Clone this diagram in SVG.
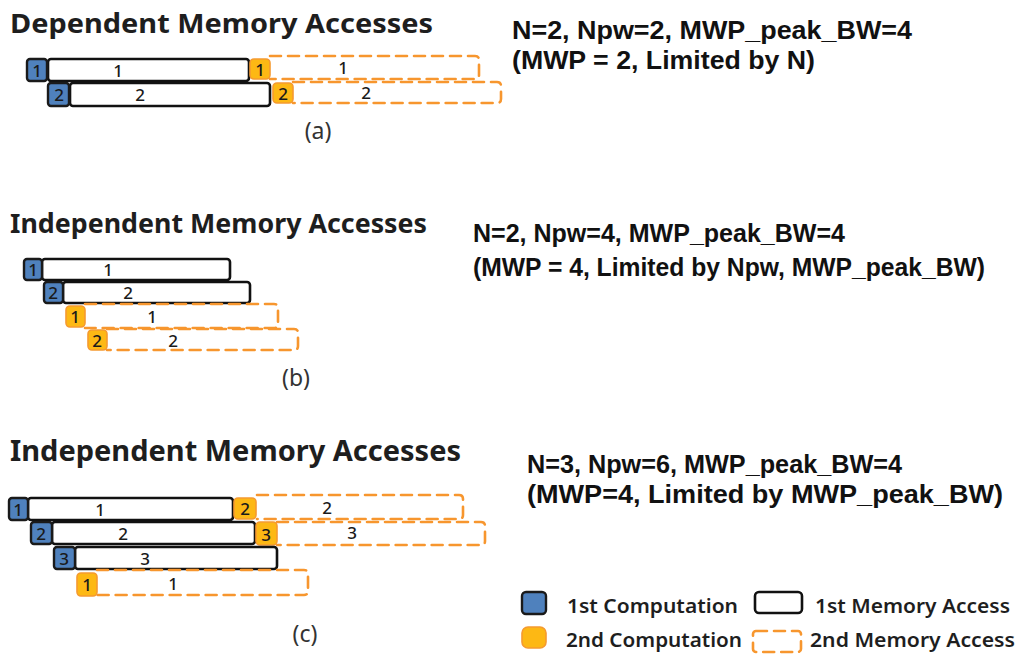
<svg xmlns="http://www.w3.org/2000/svg" width="1021" height="657" viewBox="0 0 1021 657">
  <style>
    .title { font-family: "Noto Sans", "Open Sans", sans-serif; font-weight: bold; font-size: 26px; fill: #1e1e1e; }
    .param { font-family: "Liberation Sans", Arial, sans-serif; font-weight: bold; font-size: 25px; fill: #111; }
    .cap { font-family: "Noto Sans", "Open Sans", sans-serif; font-size: 23px; fill: #333; text-anchor: middle; }
    .num { font-family: "Noto Sans", "Open Sans", sans-serif; font-weight: 500; font-size: 17px; fill: #1a1a1a; text-anchor: middle; }
    .leg { font-family: "Noto Sans", "Open Sans", sans-serif; font-weight: 600; font-size: 19px; fill: #1e1e1e; }
    .c1 { fill: #4f81bd; stroke: #1a1a1a; stroke-width: 2.4; }
    .c2 { fill: #fdb814; stroke: #f59a30; stroke-width: 1.6; }
    .m1 { fill: #fff; stroke: #111; stroke-width: 2.6; }
    .m2 { fill: none; stroke: #f7962e; stroke-width: 2.6; stroke-dasharray: 11 7; stroke-linecap: round; }
  </style>

  <!-- (a) dependent accesses -->
  <g id="panel-a">
    <text class="title" x="10" y="33" textLength="423" lengthAdjust="spacingAndGlyphs">Dependent Memory Accesses</text>
    <text class="param" x="512" y="39" textLength="400" lengthAdjust="spacingAndGlyphs">N=2, Npw=2, MWP_peak_BW=4</text>
    <text class="param" x="512" y="69" textLength="303" lengthAdjust="spacingAndGlyphs">(MWP = 2, Limited by N)</text>

    <g id="a-w1">
      <path class="m2" d="M270 56 H475 Q479 56 479 60 V75 Q479 79 475 79 H270"/>
      <rect class="m1" x="48" y="59" width="201" height="22" rx="3"/>
      <rect class="c1" x="27" y="59" width="20" height="22" rx="3"/>
      <rect class="c2" x="250" y="59" width="20" height="20" rx="4"/>
      <text class="num" x="37" y="77">1</text>
      <text class="num" x="118" y="77">1</text>
      <text class="num" x="260" y="76">1</text>
      <text class="num" x="343" y="74">1</text>
    </g>
    <g id="a-w2">
      <path class="m2" d="M293 82 H497 Q501 82 501 86 V99 Q501 103 497 103 H293"/>
      <rect class="m1" x="70" y="83" width="200" height="23" rx="3"/>
      <rect class="c1" x="48" y="83" width="21" height="23" rx="3"/>
      <rect class="c2" x="273" y="83" width="20" height="20" rx="4"/>
      <text class="num" x="59" y="101">2</text>
      <text class="num" x="140" y="101">2</text>
      <text class="num" x="283" y="100">2</text>
      <text class="num" x="366" y="99">2</text>
    </g>
    <text class="cap" x="318" y="139">(a)</text>
  </g>

  <!-- (b) independent accesses, N=2 -->
  <g id="panel-b">
    <text class="title" x="10" y="233" textLength="417" lengthAdjust="spacingAndGlyphs">Independent Memory Accesses</text>
    <text class="param" x="473" y="242" textLength="372" lengthAdjust="spacingAndGlyphs">N=2, Npw=4, MWP_peak_BW=4</text>
    <text class="param" x="473" y="276" textLength="512" lengthAdjust="spacingAndGlyphs">(MWP = 4, Limited by Npw, MWP_peak_BW)</text>

    <g id="b-w1">
      <rect class="m1" x="42" y="259" width="188" height="21" rx="3"/>
      <rect class="c1" x="24" y="259" width="18" height="21" rx="3"/>
      <text class="num" x="33" y="276">1</text>
      <text class="num" x="108" y="276">1</text>
    </g>
    <g id="b-w2">
      <rect class="m1" x="63" y="282" width="187" height="21" rx="3"/>
      <rect class="c1" x="44" y="282" width="19" height="21" rx="3"/>
      <text class="num" x="53" y="299">2</text>
      <text class="num" x="128" y="299">2</text>
    </g>
    <g id="b-w1-second">
      <path class="m2" d="M85 304 H274 Q278 304 278 308 V324 Q278 328 274 328 H85"/>
      <rect class="c2" x="66" y="306" width="19" height="21" rx="4"/>
      <text class="num" x="75" y="323">1</text>
      <text class="num" x="152" y="323">1</text>
    </g>
    <g id="b-w2-second">
      <path class="m2" d="M107 329 H294 Q298 329 298 333 V346 Q298 350 294 350 H107"/>
      <rect class="c2" x="88" y="330" width="19" height="20" rx="4"/>
      <text class="num" x="97" y="347">2</text>
      <text class="num" x="173" y="347">2</text>
    </g>
    <text class="cap" x="296" y="386">(b)</text>
  </g>

  <!-- (c) independent accesses, N=3 -->
  <g id="panel-c">
    <text class="title" x="10" y="461" textLength="451" lengthAdjust="spacingAndGlyphs" style="font-size:28px">Independent Memory Accesses</text>
    <text class="param" x="527" y="473" textLength="375" lengthAdjust="spacingAndGlyphs">N=3, Npw=6, MWP_peak_BW=4</text>
    <text class="param" x="527" y="503" textLength="476" lengthAdjust="spacingAndGlyphs">(MWP=4, Limited by MWP_peak_BW)</text>

    <g id="c-w1">
      <path class="m2" d="M257 495 H459 Q463 495 463 499 V515 Q463 519 459 519 H257"/>
      <rect class="m1" x="28" y="498" width="205" height="22" rx="3"/>
      <rect class="c1" x="9" y="498" width="19" height="22" rx="3"/>
      <rect class="c2" x="234" y="498" width="22" height="21" rx="4"/>
      <text class="num" x="18" y="516">1</text>
      <text class="num" x="100" y="516">1</text>
      <text class="num" x="245" y="515">2</text>
      <text class="num" x="327" y="514">2</text>
    </g>
    <g id="c-w2">
      <path class="m2" d="M277 522 H481 Q485 522 485 526 V541 Q485 545 481 545 H277"/>
      <rect class="m1" x="52" y="522" width="203" height="22" rx="3"/>
      <rect class="c1" x="31" y="522" width="21" height="22" rx="3"/>
      <rect class="c2" x="256" y="522" width="21" height="23" rx="4"/>
      <text class="num" x="41" y="540">2</text>
      <text class="num" x="123" y="540">2</text>
      <text class="num" x="266" y="541">3</text>
      <text class="num" x="352" y="539">3</text>
    </g>
    <g id="c-w3">
      <rect class="m1" x="75" y="547" width="202" height="22" rx="3"/>
      <rect class="c1" x="54" y="547" width="21" height="22" rx="3"/>
      <text class="num" x="64" y="565">3</text>
      <text class="num" x="145" y="565">3</text>
    </g>
    <g id="c-w1-second">
      <path class="m2" d="M97 570 H304 Q308 570 308 574 V591 Q308 595 304 595 H97"/>
      <rect class="c2" x="77" y="573" width="20" height="23" rx="4"/>
      <text class="num" x="87" y="591">1</text>
      <text class="num" x="173" y="590">1</text>
    </g>
    <text class="cap" x="305" y="642">(c)</text>
  </g>

  <!-- legend -->
  <g id="legend">
    <rect class="c1" x="522" y="592" width="24" height="22" rx="4"/>
    <text class="leg" x="567" y="613" textLength="171" lengthAdjust="spacingAndGlyphs">1st Computation</text>
    <rect class="c2" x="522" y="627" width="24" height="21" rx="6"/>
    <text class="leg" x="566" y="647" textLength="176" lengthAdjust="spacingAndGlyphs">2nd Computation</text>
    <rect class="m1" x="755" y="592" width="47" height="21" rx="4"/>
    <text class="leg" x="815" y="613" textLength="195" lengthAdjust="spacingAndGlyphs">1st Memory Access</text>
    <rect class="m2" x="753" y="631" width="48" height="21" rx="3"/>
    <text class="leg" x="810" y="647" textLength="205" lengthAdjust="spacingAndGlyphs">2nd Memory Access</text>
  </g>
</svg>
